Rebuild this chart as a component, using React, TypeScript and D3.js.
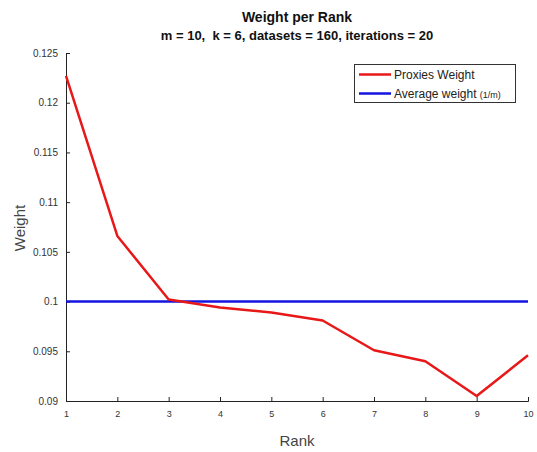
import React, { useEffect, useRef } from 'react';
import * as d3 from 'd3';

const ranks = [1, 2, 3, 4, 5, 6, 7, 8, 9, 10];
const proxiesWeight = [0.1227, 0.1066, 0.1002, 0.0994, 0.0989, 0.0981, 0.0951, 0.094, 0.0905, 0.0946];
const averageWeight = [0.1, 0.1, 0.1, 0.1, 0.1, 0.1, 0.1, 0.1, 0.1, 0.1];
const yTicks = [0.09, 0.095, 0.1, 0.105, 0.11, 0.115, 0.12, 0.125];

const W = 537;
const H = 452;
const font = 'Liberation Sans, Arial, Helvetica, sans-serif';

export default function App() {
  const ref = useRef<SVGSVGElement>(null);

  useEffect(() => {
    const svg = d3.select(ref.current);
    svg.selectAll('*').remove();

    const x = d3.scaleLinear().domain([1, 10]).range([66, 528]);
    const y = d3.scaleLinear().domain([0.09, 0.125]).range([401, 53]);

    svg.append('rect').attr('width', W).attr('height', H).attr('fill', '#fff');

    // axes, ticks pointing inward
    const xAxis = svg.append('g').attr('transform', `translate(0,${y(0.09)})`)
      .call(d3.axisBottom(x).tickValues(ranks).tickSize(-4).tickPadding(10).tickFormat(d3.format('d')));
    const yAxis = svg.append('g').attr('transform', `translate(${x(1)},0)`)
      .call(d3.axisLeft(y).tickValues(yTicks).tickSize(-4).tickPadding(8).tickFormat((d) => String(+d)));
    [xAxis, yAxis].forEach((a) => {
      a.select('.domain').attr('stroke', '#222').attr('stroke-width', 1);
      a.selectAll('.tick line').attr('stroke', '#222');
      a.selectAll('.tick text').attr('fill', '#333').attr('font-family', font);
    });
    xAxis.selectAll('.tick text').attr('font-size', 9);
    yAxis.selectAll('.tick text').attr('font-size', 10);

    const line = d3.line<number>().x((_, i) => x(ranks[i])).y((d) => y(d));

    svg.append('path').datum(averageWeight).attr('d', line)
      .attr('fill', 'none').attr('stroke', '#1414e0').attr('stroke-width', 2.5);
    svg.append('path').datum(proxiesWeight).attr('d', line)
      .attr('fill', 'none').attr('stroke', '#e81818').attr('stroke-width', 2.5)
      .attr('stroke-linejoin', 'round');

    // titles
    svg.append('text').attr('x', 297).attr('y', 22).attr('text-anchor', 'middle')
      .attr('font-family', font).attr('font-weight', 'bold').attr('font-size', 14)
      .attr('fill', '#111').text('Weight per Rank');
    svg.append('text').attr('x', 297).attr('y', 40).attr('text-anchor', 'middle')
      .attr('font-family', font).attr('font-weight', 'bold').attr('font-size', 13)
      .attr('fill', '#111').style('white-space', 'pre')
      .text('m = 10,  k = 6, datasets = 160, iterations = 20');

    svg.append('text').attr('x', 297).attr('y', 446).attr('text-anchor', 'middle')
      .attr('font-family', font).attr('font-size', 15).attr('fill', '#444').text('Rank');
    svg.append('text').attr('transform', 'translate(25,228) rotate(-90)').attr('text-anchor', 'middle')
      .attr('font-family', font).attr('font-size', 15).attr('fill', '#444').text('Weight');

    // legend
    const lg = svg.append('g');
    lg.append('rect').attr('x', 354.5).attr('y', 64.5).attr('width', 161).attr('height', 38)
      .attr('fill', '#fff').attr('stroke', '#333').attr('stroke-width', 1);
    const items = [
      { label: 'Proxies Weight', extra: '', color: '#e81818' },
      { label: 'Average weight ', extra: '(1/m)', color: '#1414e0' },
    ];
    items.forEach((it, i) => {
      const yy = 74.5 + i * 19;
      lg.append('line').attr('x1', 359).attr('x2', 391).attr('y1', yy).attr('y2', yy)
        .attr('stroke', it.color).attr('stroke-width', 2.5);
      const t = lg.append('text').attr('x', 394).attr('y', yy + 4.5)
        .attr('font-family', font).attr('font-size', 12).attr('fill', '#222')
        .style('white-space', 'pre');
      t.append('tspan').text(it.label);
      if (it.extra) t.append('tspan').attr('font-size', 9).text(it.extra);
    });
  }, []);

  return (
    <svg ref={ref} width={W} height={H}
      style={{ position: 'fixed', left: 0, top: 0, display: 'block' }} />
  );
}
